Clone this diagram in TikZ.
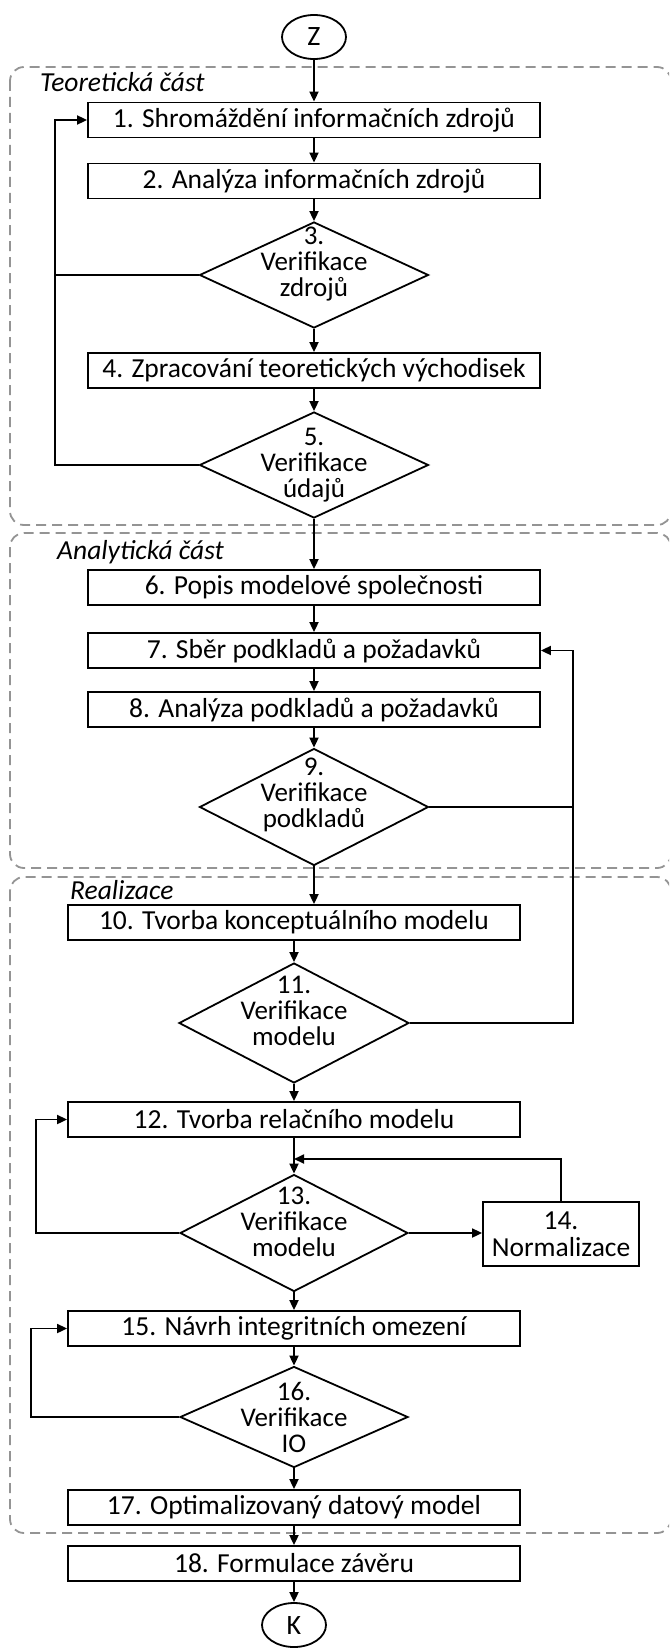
\documentclass[tikz,border=0pt]{standalone}
\usepackage{fontspec}
\setmainfont{Carlito}
\usetikzlibrary{shapes.geometric,arrows.meta}
\begin{document}
\begin{tikzpicture}[x=1pt,y=-1pt,
  boxfont/.style={font=\fontsize{27.5}{27}\selectfont},
  stepbox/.style={boxfont, draw, line width=1.8pt, rectangle, minimum width=452pt,
    minimum height=35pt, inner sep=0pt, align=center},
  decision/.style={draw, line width=1.8pt, diamond, inner sep=0pt, aspect=2},
  dtext/.style={font=\fontsize{27}{26}\selectfont, align=center, inner sep=0pt},
  terminal/.style={draw, line width=1.8pt, ellipse, minimum width=64pt,
    minimum height=44pt, inner sep=0pt, font=\fontsize{28}{30}\selectfont},
  region/.style={draw=black!42, line width=1.8pt, dash pattern=on 10pt off 6pt,
    rounded corners=14pt},
  sectlabel/.style={font=\fontsize{27.5}{27}\selectfont\itshape, inner sep=0pt},
  conn/.style={line width=1.8pt},
  arr/.style={conn, -{Triangle[length=10pt,width=9pt]}}]
\clip (0,0) rectangle (669,1648);

% dashed phase regions
\draw[region] (10,67) rectangle (671,525);
\draw[region] (10,533) rectangle (671,868);
\draw[region] (10,877) rectangle (671,1533);
\node[sectlabel, anchor=west] (lt) at (40,82) {Teoretická část};
\node[sectlabel, anchor=west] (la) at (57,552) {Analytická část};
\node[sectlabel, anchor=west] (lr) at (70,890) {Realizace};

% start
\node[terminal] (z) at (314,37) {Z};

% theoretical part
\node[stepbox] (b1) at (314,120) {1. Shromáždění informačních zdrojů};
\node[stepbox] (b2) at (314,181) {2. Analýza informačních zdrojů};
\node[decision, minimum width=229pt, minimum height=106pt] (d3) at (314,275) {};
\node[dtext] (t3) at ([yshift=11pt]d3.center) {3.\\Verifikace\\zdrojů};
\node[stepbox] (b4) at (314,370.5) {4. Zpracování teoretických východisek};
\node[decision, minimum width=229pt, minimum height=106pt] (d5) at (314,465) {};
\node[dtext] (t5) at (d5.center) {5.\\Verifikace\\údajů};

% analytical part
\node[stepbox] (b6) at (314,587.5) {6. Popis modelové společnosti};
\node[stepbox] (b7) at (314,650.5) {7. Sběr podkladů a požadavků};
\node[stepbox] (b8) at (314,709.5) {8. Analýza podkladů a požadavků};
\node[decision, minimum width=229pt, minimum height=117pt] (d9) at (314,807) {};
\node[dtext] (t9) at ([yshift=12pt]d9.center) {9.\\Verifikace\\podkladů};

% realisation
\node[stepbox] (b10) at (294,922.5) {10. Tvorba konceptuálního modelu};
\node[decision, minimum width=230pt, minimum height=120pt] (d11) at (294,1023) {};
\node[dtext] (t11) at ([yshift=12pt]d11.center) {11.\\Verifikace\\modelu};
\node[stepbox] (b12) at (294,1119.5) {12. Tvorba relačního modelu};
\node[decision, minimum width=228pt, minimum height=117pt] (d13) at (294,1233) {};
\node[dtext] (t13) at ([yshift=11pt]d13.center) {13.\\Verifikace\\modelu};
\node[stepbox, minimum width=156pt, minimum height=64pt] (b14) at (561,1234) {14.\\Normalizace};
\node[stepbox] (b15) at (294,1328.5) {15. Návrh integritních omezení};
\node[decision, minimum width=228pt, minimum height=101pt] (d16) at (294,1417) {};
\node[dtext] (t16) at (d16.center) {16.\\Verifikace\\IO};
\node[stepbox] (b17) at (294,1507.5) {17. Optimalizovaný datový model};
\node[stepbox] (b18) at (294,1563.5) {18. Formulace závěru};

% end
\node[terminal] (k) at (294,1625) {K};

% main flow
\draw[arr] (z) -- (b1);
\draw[arr] (b1) -- (b2);
\draw[arr] (b2) -- (d3);
\draw[arr] (d3) -- (b4);
\draw[arr] (b4) -- (d5);
\draw[arr] (d5) -- (b6);
\draw[arr] (b6) -- (b7);
\draw[arr] (b7) -- (b8);
\draw[arr] (b8) -- (d9);
\draw[arr] (d9.south) -- (d9.south |- b10.north);
\draw[arr] (b10) -- (d11);
\draw[arr] (d11) -- (b12);
\draw[arr] (b12) -- (d13);
\draw[arr] (d13) -- (b15);
\draw[arr] (b15) -- (d16);
\draw[arr] (d16) -- (b17);
\draw[arr] (b17) -- (b18);
\draw[arr] (b18) -- (k);

% feedback loops
\coordinate (l1) at (55,0);
\draw[conn] (d3.west) -- (d3.west -| l1);
\draw[arr] (d5.west) -- (d5.west -| l1) |- (b1.west);
\coordinate (r1) at (573,0);
\draw[conn] (d9.east) -- (d9.east -| r1);
\draw[arr] (d11.east) -- (d11.east -| r1) |- (b7.east);
\coordinate (l2) at (36,0);
\draw[arr] (d13.west) -- (d13.west -| l2) |- (b12.west);
\draw[arr] (d13.east) -- (d13.east -| b14.west);
\coordinate (m) at (294,1159);
\draw[arr] (b14.north) |- (m);
\coordinate (l3) at (31,0);
\draw[arr] (d16.west) -- (d16.west -| l3) |- (b15.west);
\end{tikzpicture}
\end{document}
